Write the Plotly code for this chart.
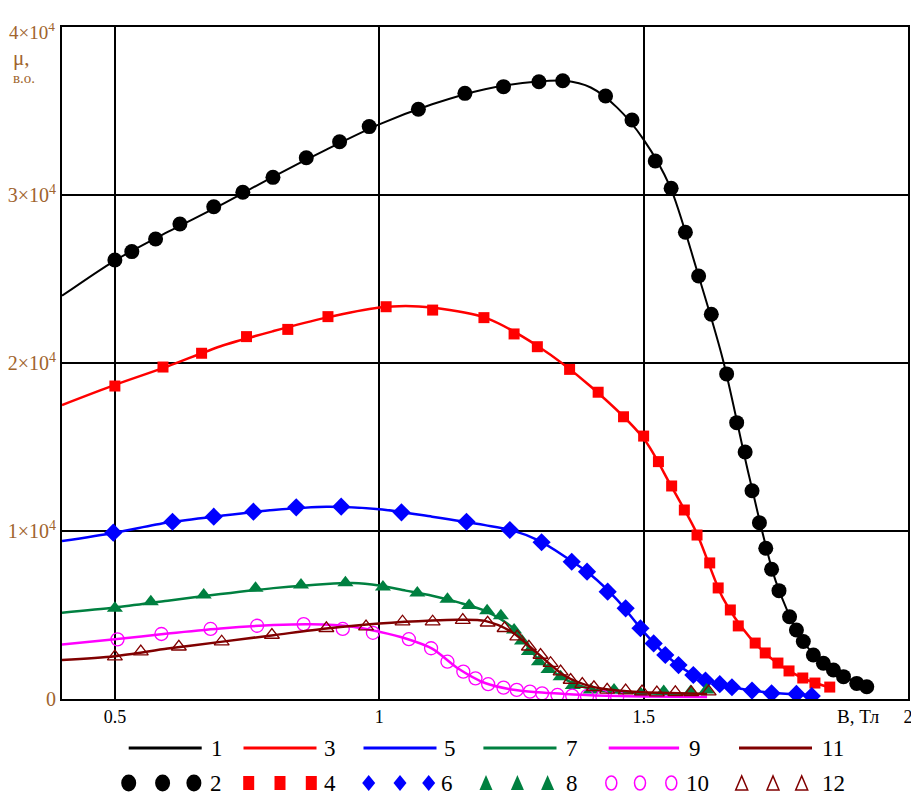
import plotly.graph_objects as go

UNIT = 1e4  # values below are in units of 10^4

# ---- curve 1 (calculated) / 2 (measured) : black ----
B_1 = [0.40, 0.50, 0.60, 0.70, 0.80, 0.90, 1.00, 1.10, 1.20, 1.30, 1.35, 1.40, 1.45, 1.50, 1.55, 1.60, 1.65, 1.70, 1.75, 1.80, 1.85, 1.92]
MU_1 = [2.40, 2.61, 2.78, 2.94, 3.11, 3.27, 3.42, 3.54, 3.63, 3.675, 3.68, 3.64, 3.52, 3.33, 3.05, 2.56, 2.02, 1.32, 0.70, 0.35, 0.19, 0.07]
B_2 = [0.500, 0.532, 0.577, 0.623, 0.687, 0.742, 0.799, 0.862, 0.925, 0.981, 1.074, 1.162, 1.235, 1.302, 1.347, 1.428, 1.478, 1.522, 1.552, 1.579, 1.604, 1.628, 1.657, 1.676, 1.692, 1.705, 1.719, 1.731, 1.742, 1.756, 1.776, 1.789, 1.802, 1.821, 1.840, 1.859, 1.878, 1.903, 1.922]
MU_2 = [2.613, 2.663, 2.738, 2.827, 2.930, 3.016, 3.105, 3.222, 3.317, 3.407, 3.510, 3.605, 3.645, 3.674, 3.680, 3.589, 3.446, 3.202, 3.040, 2.778, 2.518, 2.290, 1.935, 1.645, 1.470, 1.240, 1.049, 0.897, 0.772, 0.645, 0.490, 0.411, 0.342, 0.262, 0.213, 0.173, 0.133, 0.093, 0.073]

# ---- curve 3 / 4 : red ----
B_3 = [0.40, 0.50, 0.60, 0.70, 0.80, 0.90, 1.00, 1.05, 1.10, 1.20, 1.30, 1.40, 1.50, 1.55, 1.60, 1.65, 1.70, 1.75, 1.80, 1.85]
MU_3 = [1.75, 1.87, 1.98, 2.10, 2.19, 2.27, 2.33, 2.34, 2.33, 2.27, 2.10, 1.86, 1.55, 1.28, 0.99, 0.60, 0.37, 0.22, 0.125, 0.07]
B_4 = [0.500, 0.591, 0.664, 0.749, 0.827, 0.903, 1.013, 1.101, 1.198, 1.255, 1.299, 1.360, 1.414, 1.462, 1.500, 1.528, 1.553, 1.577, 1.601, 1.625, 1.641, 1.664, 1.679, 1.711, 1.730, 1.754, 1.775, 1.801, 1.824, 1.852]
MU_4 = [1.863, 1.976, 2.058, 2.157, 2.200, 2.276, 2.335, 2.315, 2.270, 2.173, 2.097, 1.962, 1.826, 1.680, 1.565, 1.413, 1.268, 1.125, 0.976, 0.810, 0.661, 0.530, 0.435, 0.333, 0.274, 0.214, 0.167, 0.125, 0.095, 0.071]

# ---- curve 5 / 6 : blue ----
B_5 = [0.40, 0.50, 0.60, 0.70, 0.80, 0.90, 1.00, 1.10, 1.20, 1.25, 1.30, 1.35, 1.40, 1.45, 1.50, 1.55, 1.60, 1.65, 1.70, 1.75, 1.82]
MU_5 = [0.94, 0.99, 1.05, 1.09, 1.125, 1.145, 1.13, 1.085, 1.035, 1.005, 0.945, 0.85, 0.74, 0.59, 0.40, 0.24, 0.135, 0.085, 0.052, 0.035, 0.02]
B_6 = [0.497, 0.609, 0.687, 0.762, 0.843, 0.928, 1.042, 1.165, 1.247, 1.307, 1.364, 1.393, 1.432, 1.466, 1.494, 1.519, 1.541, 1.566, 1.594, 1.617, 1.644, 1.667, 1.705, 1.742, 1.789, 1.818]
MU_6 = [0.990, 1.055, 1.085, 1.115, 1.141, 1.145, 1.111, 1.055, 1.006, 0.933, 0.817, 0.758, 0.639, 0.540, 0.421, 0.331, 0.262, 0.202, 0.143, 0.110, 0.088, 0.070, 0.050, 0.034, 0.030, 0.018]

# ---- curve 7 / 8 : green ----
B_7 = [0.40, 0.50, 0.60, 0.70, 0.80, 0.90, 0.95, 1.00, 1.05, 1.10, 1.15, 1.20, 1.25, 1.30, 1.35, 1.40, 1.45, 1.50, 1.55, 1.62]
MU_7 = [0.514, 0.545, 0.585, 0.625, 0.66, 0.685, 0.69, 0.675, 0.645, 0.615, 0.575, 0.525, 0.43, 0.24, 0.12, 0.06, 0.04, 0.035, 0.03, 0.03]
B_8 = [0.500, 0.568, 0.668, 0.766, 0.852, 0.936, 1.007, 1.072, 1.129, 1.170, 1.204, 1.230, 1.255, 1.270, 1.283, 1.302, 1.320, 1.343, 1.366, 1.400, 1.444, 1.494, 1.538, 1.589, 1.619]
MU_8 = [0.540, 0.579, 0.619, 0.659, 0.679, 0.692, 0.667, 0.631, 0.594, 0.557, 0.525, 0.495, 0.411, 0.345, 0.282, 0.222, 0.175, 0.133, 0.080, 0.054, 0.054, 0.034, 0.044, 0.044, 0.054]

# ---- curve 9 / 10 : magenta ----
B_9 = [0.40, 0.50, 0.60, 0.70, 0.80, 0.87, 0.95, 1.00, 1.05, 1.10, 1.15, 1.20, 1.25, 1.30, 1.35, 1.40, 1.50, 1.62]
MU_9 = [0.325, 0.355, 0.39, 0.42, 0.44, 0.445, 0.43, 0.40, 0.36, 0.30, 0.18, 0.095, 0.057, 0.04, 0.03, 0.022, 0.015, 0.012]
B_10 = [0.505, 0.588, 0.681, 0.769, 0.857, 0.931, 0.988, 1.056, 1.098, 1.129, 1.159, 1.182, 1.206, 1.235, 1.260, 1.285, 1.308, 1.337, 1.365, 1.393, 1.422, 1.450]
MU_10 = [0.355, 0.387, 0.417, 0.436, 0.446, 0.417, 0.394, 0.356, 0.302, 0.222, 0.163, 0.123, 0.088, 0.068, 0.054, 0.044, 0.034, 0.024, 0.020, 0.017, 0.015, 0.013]

# ---- curve 11 / 12 : dark red ----
B_11 = [0.40, 0.50, 0.60, 0.70, 0.80, 0.90, 1.00, 1.10, 1.15, 1.20, 1.25, 1.30, 1.35, 1.40, 1.45, 1.50, 1.55, 1.62]
MU_11 = [0.232, 0.255, 0.30, 0.34, 0.38, 0.42, 0.45, 0.468, 0.472, 0.465, 0.40, 0.27, 0.14, 0.075, 0.05, 0.04, 0.035, 0.03]
B_12 = [0.500, 0.549, 0.621, 0.702, 0.797, 0.900, 0.975, 1.044, 1.101, 1.158, 1.205, 1.237, 1.261, 1.283, 1.305, 1.324, 1.343, 1.362, 1.384, 1.406, 1.431, 1.466, 1.497, 1.525, 1.560, 1.590, 1.623]
MU_12 = [0.252, 0.282, 0.311, 0.341, 0.381, 0.421, 0.431, 0.460, 0.460, 0.470, 0.454, 0.421, 0.371, 0.311, 0.262, 0.213, 0.163, 0.113, 0.089, 0.070, 0.054, 0.050, 0.044, 0.038, 0.040, 0.040, 0.044]

X_TICKS = [0.5, 1, 1.5, 2]
X_TICK_TEXT = ["0.5", "1", "1.5", "2"]
Y_TICKS = [0, 1, 2, 3, 4]
Y_TICK_TEXT = ["0", "1×10<sup>4</sup>", "2×10<sup>4</sup>", "3×10<sup>4</sup>", "4×10<sup>4</sup>"]
LEGEND_LINE_LABELS = ["1", "3", "5", "7", "9", "11"]
LEGEND_MARK_LABELS = ["2", "4", "6", "8", "10", "12"]

COLORS = ["#000000", "#ff0000", "#0000ff", "#008040", "#ff00ff", "#800000"]
MARKERS = [
    dict(symbol="circle", size=15),
    dict(symbol="square", size=11),
    dict(symbol="diamond", size=14),
    dict(symbol="triangle-up", size=14),
    dict(symbol="circle-open", size=13, line=dict(width=1.3)),
    dict(symbol="triangle-up-open", size=13, line=dict(width=1.3)),
]

lines = [(B_1, MU_1), (B_3, MU_3), (B_5, MU_5), (B_7, MU_7), (B_9, MU_9), (B_11, MU_11)]
points = [(B_2, MU_2), (B_4, MU_4), (B_6, MU_6), (B_8, MU_8), (B_10, MU_10), (B_12, MU_12)]

FONT = "Liberation Serif"
BROWN = "#a0642d"

fig = go.Figure()
for i in range(6):
    lx, ly = lines[i]
    px, py = points[i]
    fig.add_trace(go.Scatter(x=lx, y=[v * UNIT for v in ly], mode="lines",
                             line=dict(color=COLORS[i], width=2.5 if i else 2, shape="spline", smoothing=0.8),
                             name=LEGEND_LINE_LABELS[i], showlegend=False, hoverinfo="skip"))
    m = dict(MARKERS[i])
    m["color"] = COLORS[i]
    fig.add_trace(go.Scatter(x=px, y=[v * UNIT for v in py], mode="markers", marker=m,
                             name=LEGEND_MARK_LABELS[i], showlegend=False, cliponaxis=True))

# layout geometry (pixels). The page body adds an 8 px margin, so the figure
# is drawn 8 px right/down of the window corner.
PAGE = 8
W, H = 919 - PAGE, 800 - PAGE
ML, MR, MT, MB = 62 - PAGE, 11, 27 - PAGE, 101
PW, PH = W - ML - MR, H - MT - MB


def pxx(p):
    """window pixel x -> paper fraction"""
    return (p - PAGE - ML) / PW


def pxy(p):
    """window pixel y -> paper fraction"""
    return (H - MB - (p - PAGE)) / PH


shapes = []
annotations = []

# legend row 1: line samples
LINE_SAMPLE_X = [(128.7, 201.7), (243.5, 316.5), (363.5, 436.5), (483.4, 556.5), (608.7, 679.1), (739, 812)]
LINE_TEXT_X = [217.4, 329.5, 449.5, 572.1, 694.7, 833]
ROW1_Y, ROW2_Y = 748, 783
for i in range(6):
    x0, x1 = LINE_SAMPLE_X[i]
    shapes.append(dict(type="line", xref="paper", yref="paper", x0=pxx(x0), x1=pxx(x1),
                       y0=pxy(ROW1_Y), y1=pxy(ROW1_Y), line=dict(color=COLORS[i], width=3)))
    annotations.append(dict(x=pxx(LINE_TEXT_X[i]), y=pxy(ROW1_Y), xref="paper", yref="paper",
                            text=LEGEND_LINE_LABELS[i], showarrow=False, xanchor="center", yanchor="middle",
                            font=dict(family=FONT, size=23, color="black")))

MARK_SAMPLE_X = [(128.7, 162.6, 193.9), (248.7, 280, 311.3), (368.7, 400, 428.7),
                 (486, 517.4, 547.6), (611.3, 640, 671.3), (741.7, 773, 801.7)]
MARK_TEXT_X = [215.8, 329.5, 447, 572, 697, 833]
for i in range(6):
    for cx in MARK_SAMPLE_X[i]:
        base = dict(xref="paper", yref="paper", xsizemode="pixel", ysizemode="pixel",
                    xanchor=pxx(cx), yanchor=pxy(ROW2_Y))
        c = COLORS[i]
        if i == 0:
            shapes.append(dict(type="circle", x0=-7.5, x1=7.5, y0=-8.5, y1=8.5, fillcolor=c, line=dict(color=c, width=0), **base))
        elif i == 1:
            shapes.append(dict(type="rect", x0=-5.5, x1=5.5, y0=-7, y1=7, fillcolor=c, line=dict(color=c, width=0), **base))
        elif i == 2:
            shapes.append(dict(type="path", path="M 0,8 L 6.5,0 L 0,-8 L -6.5,0 Z", fillcolor=c, line=dict(color=c, width=0), **base))
        elif i == 3:
            shapes.append(dict(type="path", path="M -6.5,-7 L 6.5,-7 L 0,8 Z", fillcolor=c, line=dict(color=c, width=0), **base))
        elif i == 4:
            shapes.append(dict(type="circle", x0=-5.5, x1=5.5, y0=-7, y1=7, line=dict(color=c, width=1.5), **base))
        else:
            shapes.append(dict(type="path", path="M -6,-7 L 6,-7 L 0,7 Z", line=dict(color=c, width=1.5), **base))
    annotations.append(dict(x=pxx(MARK_TEXT_X[i]), y=pxy(ROW2_Y), xref="paper", yref="paper",
                            text=LEGEND_MARK_LABELS[i], showarrow=False, xanchor="center", yanchor="middle",
                            font=dict(family=FONT, size=23, color="black")))

# axis captions (top y label drawn a little below the top edge, as in the original)
annotations.append(dict(x=pxx(57), y=pxy(31), xref="paper", yref="paper", text=Y_TICK_TEXT[-1], showarrow=False,
                        xanchor="right", yanchor="middle", font=dict(family=FONT, size=19, color=BROWN)))
annotations.append(dict(x=pxx(11), y=pxy(58), xref="paper", yref="paper", text="μ,", showarrow=False,
                        xanchor="left", yanchor="middle", font=dict(family=FONT, size=21, color=BROWN)))
annotations.append(dict(x=pxx(11), y=pxy(78), xref="paper", yref="paper", text="в.о.", showarrow=False,
                        xanchor="left", yanchor="middle", font=dict(family=FONT, size=15, color=BROWN)))
annotations.append(dict(x=pxx(858), y=pxy(716), xref="paper", yref="paper", text="B, Тл", showarrow=False,
                        xanchor="center", yanchor="middle", font=dict(family=FONT, size=19, color="black")))

fig.update_layout(
    width=W, height=H,
    margin=dict(l=ML, r=MR, t=MT, b=MB, autoexpand=False),
    paper_bgcolor="white", plot_bgcolor="white",
    shapes=shapes, annotations=annotations,
    showlegend=False,
)
fig.update_xaxes(range=[0.4, 2.0], tickvals=X_TICKS, ticktext=X_TICK_TEXT, automargin=False,
                 showgrid=True, gridcolor="black", gridwidth=1.5,
                 showline=True, linecolor="black", linewidth=2, mirror=True,
                 ticks="", zeroline=False, tickfont=dict(family=FONT, size=18, color="black"))
fig.update_yaxes(range=[0, 4 * UNIT], tickvals=[v * UNIT for v in Y_TICKS[:-1]], ticktext=Y_TICK_TEXT[:-1],
                 automargin=False,
                 showgrid=True, gridcolor="black", gridwidth=1.5,
                 showline=True, linecolor="black", linewidth=2, mirror=True,
                 ticks="", zeroline=False, tickfont=dict(family=FONT, size=20, color=BROWN))

fig.write_html("out.html")
